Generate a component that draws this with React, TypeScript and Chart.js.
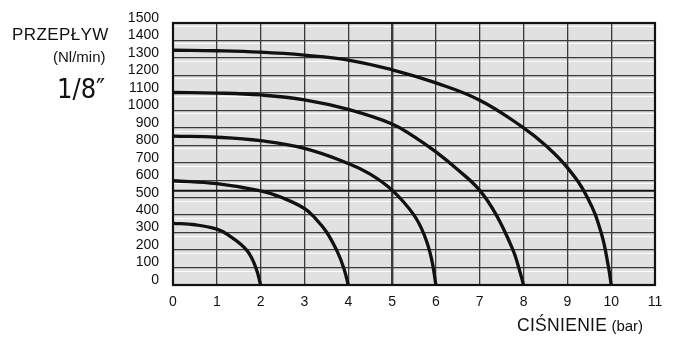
import React, { useEffect, useRef } from "react";
import { Chart, registerables } from "chart.js";

Chart.register(...registerables);

// Pressure (bar) and flow (Nl/min) readings for each curve
const P1 = [0, 0.5, 1, 1.25, 1.68, 1.89, 2];
const Q1 = [353, 345, 320, 288, 200, 100, 0];

const P2 = [0, 1, 2, 2.5, 3, 3.25, 3.5, 3.75, 3.9, 4];
const Q2 = [597, 580, 539, 499, 438, 381, 305, 191, 95, 0];

const P3 = [0, 1, 2, 3, 4, 4.5, 5, 5.5, 5.75, 5.9, 6];
const Q3 = [852, 846, 826, 782, 696, 635, 543, 400, 276, 150, 0];

const P4 = [0, 1, 2, 3, 4, 5, 5.5, 6, 6.5, 7, 7.38, 7.76, 7.89, 8];
const Q4 = [1102, 1099, 1088, 1060, 1005, 922, 850, 762, 660, 542, 400, 200, 100, 0];

const P5 = [0, 1, 2, 3, 4, 5, 6, 7, 8, 8.5, 9, 9.46, 9.77, 9.94, 10];
const Q5 = [1344, 1341, 1333, 1316, 1288, 1232, 1157, 1058, 900, 800, 672, 500, 300, 100, 0];

const REF_P = [0, 11];
const REF_Q = [540, 540];

const X_MIN = 0;
const X_MAX = 11;
const Y_MIN = 0;
const Y_MAX = 1500;

const toPoints = (xs: number[], ys: number[]) => xs.map((x, i) => ({ x, y: ys[i] }));

const plotPlugin = {
  id: "plotDecor",
  beforeDraw(chart: any) {
    const { ctx, chartArea, scales } = chart;
    ctx.save();
    ctx.fillStyle = "#e1e1e1";
    ctx.fillRect(chartArea.left, chartArea.top, chartArea.right - chartArea.left, chartArea.bottom - chartArea.top);
    const ys = scales.y;
    ctx.strokeStyle = "rgba(255,255,255,0.9)";
    ctx.lineWidth = 1;
    for (let v = Y_MIN + 100; v <= Y_MAX; v += 100) {
      const py = Math.round(ys.getPixelForValue(v)) + 3.5;
      ctx.beginPath();
      ctx.moveTo(chartArea.left, py);
      ctx.lineTo(chartArea.right, py);
      ctx.stroke();
    }
    ctx.restore();
  },
  afterDatasetsDraw(chart: any) {
    const { ctx, chartArea } = chart;
    ctx.save();
    ctx.strokeStyle = "#111";
    ctx.lineWidth = 2.2;
    ctx.strokeRect(chartArea.left, chartArea.top, chartArea.right - chartArea.left, chartArea.bottom - chartArea.top);
    ctx.restore();
  },
};

export default function App() {
  const canvasRef = useRef<HTMLCanvasElement | null>(null);

  useEffect(() => {
    if (!canvasRef.current) return;
    const curve = (xs: number[], ys: number[]) => ({
      data: toPoints(xs, ys),
      borderColor: "#111",
      borderWidth: 3.3,
      pointRadius: 0,
      fill: false,
      tension: 0.42,
      capBezierPoints: false,
    });
    const chart = new Chart(canvasRef.current, {
      type: "line",
      data: {
        datasets: [
          curve(P1, Q1),
          curve(P2, Q2),
          curve(P3, Q3),
          curve(P4, Q4),
          curve(P5, Q5),
          {
            data: toPoints(REF_P, REF_Q),
            borderColor: "#111",
            borderWidth: 2,
            pointRadius: 0,
            fill: false,
            tension: 0,
          },
        ],
      },
      options: {
        animation: false,
        responsive: false,
        maintainAspectRatio: false,
        layout: { padding: { left: 0, right: 18, top: 23, bottom: 0 } },
        plugins: { legend: { display: false }, tooltip: { enabled: false }, title: { display: false } },
        scales: {
          x: {
            type: "linear",
            min: X_MIN,
            max: X_MAX,
            ticks: {
              stepSize: 1,
              autoSkip: false,
              color: "#111",
              padding: 9,
              font: { family: "'Liberation Sans', Arial, sans-serif", size: 14 },
              callback: (v: any) => String(v),
            },
            grid: {
              color: "#3a3a3a",
              lineWidth: (c: any) => (c.tick && c.tick.value === 5 ? 2.4 : 1.3),
              drawTicks: false,
            },
            border: { display: false },
            afterFit: (s: any) => {
              s.height = 59;
            },
          },
          y: {
            type: "linear",
            min: Y_MIN,
            max: Y_MAX,
            ticks: {
              stepSize: 100,
              autoSkip: false,
              color: "#111",
              padding: 14,
              labelOffset: -5,
              font: { family: "'Liberation Sans', Arial, sans-serif", size: 14 },
              callback: (v: any) => String(v),
            },
            grid: { color: "#3a3a3a", lineWidth: 1.3, drawTicks: false },
            border: { display: false },
            afterFit: (s: any) => {
              s.width = 173;
            },
          },
        },
      },
      plugins: [plotPlugin],
    });
    return () => chart.destroy();
  }, []);

  const font = "'Liberation Sans', Arial, sans-serif";
  return (
    <div style={{ position: "fixed", left: 0, top: 0, width: 673, height: 344, background: "#fff", fontFamily: font, color: "#111" }}>
      <canvas ref={canvasRef} width={673} height={344} style={{ position: "absolute", left: 0, top: 0 }} />
      <div style={{ position: "absolute", left: 12, top: 25, fontSize: 17, letterSpacing: 0.4, lineHeight: "20px", whiteSpace: "nowrap" }}>PRZEPŁYW</div>
      <div style={{ position: "absolute", left: 53, top: 48, fontSize: 15, lineHeight: "18px", whiteSpace: "nowrap" }}>(Nl/min)</div>
      <div style={{ position: "absolute", left: 57, top: 74, fontSize: 27, lineHeight: "30px", fontFamily: "'Liberation Sans Narrow', 'DejaVu Sans Condensed', sans-serif", whiteSpace: "nowrap" }}>1/8″</div>
      <div style={{ position: "absolute", left: 517, top: 314, whiteSpace: "nowrap", lineHeight: "22px" }}>
        <span style={{ fontSize: 17.5, letterSpacing: 0.3 }}>CIŚNIENIE</span>
        <span style={{ fontSize: 15 }}> (bar)</span>
      </div>
    </div>
  );
}
